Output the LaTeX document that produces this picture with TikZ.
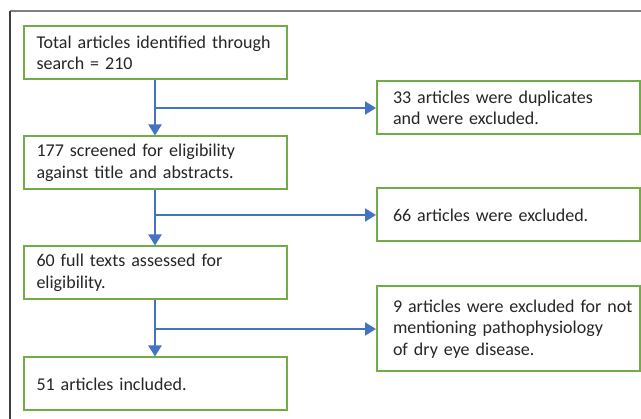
\documentclass[tikz,border=0pt]{standalone}
\usepackage{fontspec}
\setmainfont{Carlito}
\usetikzlibrary{arrows.meta}
\definecolor{boxgreen}{HTML}{70AD47}
\definecolor{flowblue}{HTML}{4472C4}
\definecolor{txtgray}{HTML}{262626}
\tikzset{
  stepbox/.style={draw=boxgreen, line width=2pt, fill=white, text=txtgray,
    font=\fontsize{18}{21.5}\selectfont, inner xsep=4pt, inner ysep=0pt,
    text width=255pt, align=left, minimum height=53pt},
  leftbox/.style={stepbox, execute at begin node={\leftskip=9pt}},
  rightbox/.style={stepbox, execute at begin node={\leftskip=12pt}},
  flow/.style={draw=flowblue, line width=2pt, -{Triangle[length=11pt,width=13pt]}}
}
\begin{document}
\begin{tikzpicture}[x=1pt,y=-1pt]
  \useasboundingbox (0,0) rectangle (641,419);
  \draw[gray, line width=1.3pt] (10,11) -- (641,11);
  \draw[black!75, line width=1.3pt] (10,11) -- (10,419);

  \node[leftbox] (total) at (155,53) {Total articles identified through\\search = 210};
  \node[leftbox] (screen) at (155,163) {177 screened for eligibility\\against title and abstracts.};
  \node[leftbox] (full) at (155,273) {60 full texts assessed for\\eligibility.};
  \node[leftbox] (incl) at (155,384) {51 articles included.};

  \node[rightbox] (dupl) at (508.5,108) {33 articles were duplicates\\and were excluded.};
  \node[rightbox] (excl) at (508.5,215) {66 articles were excluded.};
  \node[rightbox, minimum height=85pt] (nodry) at (508.5,329) {9 articles were excluded for not\\mentioning pathophysiology\\of dry eye disease.};

  \draw[flow] (total) -- (screen);
  \draw[flow] (screen) -- (full);
  \draw[flow] (full) -- (incl);
  \draw[flow] (total.south |- dupl) -- (dupl);
  \draw[flow] (screen.south |- excl) -- (excl);
  \draw[flow] (full.south |- nodry) -- (nodry);
\end{tikzpicture}
\end{document}
